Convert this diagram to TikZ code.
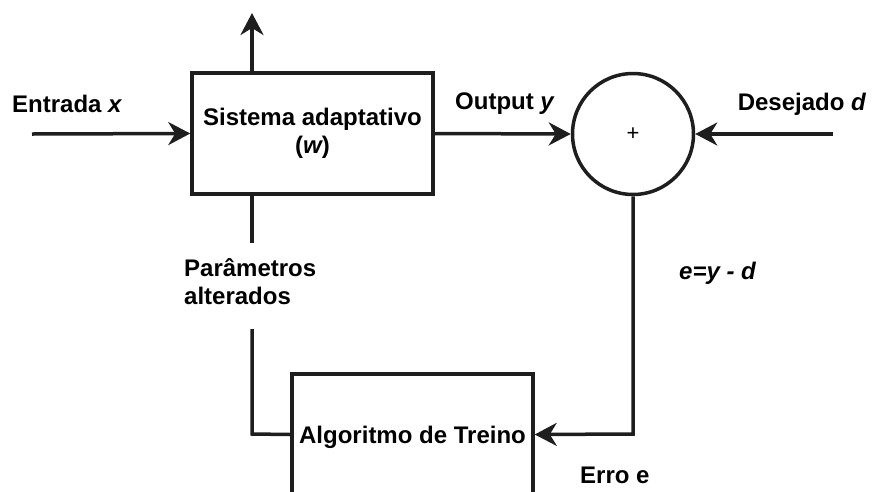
\documentclass[tikz,border=0pt]{standalone}
\usepackage{fontspec}
\setmainfont{Liberation Sans}
\usetikzlibrary{arrows.meta}
\definecolor{ink}{RGB}{30,30,30}

\begin{document}
\begin{tikzpicture}[x=1pt,y=-1pt,
  every node/.style={font=\fontsize{24}{28}\selectfont\bfseries, text=black, inner sep=0pt},
  wire/.style={draw=ink, line width=3.5pt},
  arr/.style={wire, -{Stealth[length=22pt,width=23pt,inset=7pt]}},
  blockbox/.style={draw=ink, line width=3.5pt, fill=white, minimum width=241pt, minimum height=121pt},
  sumnode/.style={circle, draw=ink, line width=3.5pt, minimum size=121pt}]
\useasboundingbox (0,0) rectangle (884,491);
\clip (0,0) rectangle (884,491);

% blocks
\node[blockbox, align=center] (sys) at (312.5,133.5) {Sistema adaptativo\\({\itshape w})};
\node[sumnode] (sum) at (633,134) {};
\node[font=\fontsize{22}{24}\selectfont] (plus) at (633,134) {+};
\node[blockbox] (train) at (412.5,434.5) {};
\node (traintxt) at (412.5,437) {Algoritmo de Treino};

% free ends
\coordinate (inx) at (32,134);
\coordinate (ind) at (833,134);
\coordinate (up) at (252,13);
\coordinate (systop) at (252,73);
\coordinate (sysbot) at (252,194);
\coordinate (parA) at (252,243);
\coordinate (parB) at (252,329);
\coordinate (parC) at (252,434);
\coordinate (errC) at (633,434);

% connectors
\draw[arr] (inx) -- (sys.west);
\draw[arr] (systop) -- (up);
\draw[arr] (sys.east) -- (sum.west);
\draw[arr] (ind) -- (sum.east);
\draw[arr] (sum.south) -- (errC) -- (train.east);
\draw[wire] (sysbot) -- (parA);
\draw[wire] (parB) -- (parC) -- (train.west);

% labels
\node[anchor=west] (lx) at (12,104) {Entrada {\itshape x}};
\node (ly) at (504.5,104) {Output {\itshape y}};
\node[anchor=east] (ld) at (866,104) {Desejado {\itshape d}};
\node[anchor=west, align=left] (lpar) at (184,282) {Parâmetros\\alterados};
\node[font=\fontsize{24}{28}\selectfont\bfseries\itshape] (le) at (717.5,273) {e=y - d};
\node[anchor=west] (lerr) at (580,475) {Erro e};
\end{tikzpicture}
\end{document}
